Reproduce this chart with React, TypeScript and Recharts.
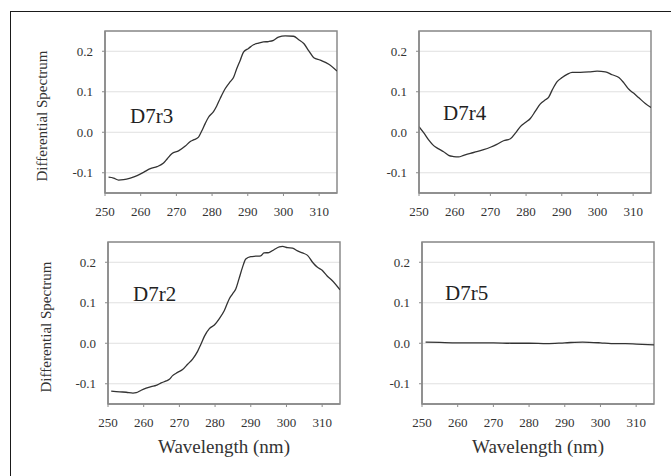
import React from "react";
import { LineChart, Line, XAxis, YAxis, CartesianGrid, ReferenceArea } from "recharts";

const xTicks = [250, 260, 270, 280, 290, 300, 310];
const yTicks = [-0.1, 0, 0.1, 0.2];

const d7r3X = [251, 252.4, 253.8, 255.2, 257.1, 259, 260.8, 262.7, 264.6, 266.4, 267.4, 268.7, 270.6, 272.5, 273.9, 274.8, 276.2, 277.1, 278.1, 279, 280.4, 281.3, 282.3, 283.7, 285.1, 286, 286.9, 287.9, 288.8, 290.2, 291.6, 293, 294.4, 295.8, 297.2, 298.6, 300.5, 302.8, 304.2, 305.7, 307.1, 308.5, 310.3, 312.7, 315];
const d7r3Y = [-0.111, -0.113, -0.118, -0.117, -0.113, -0.107, -0.099, -0.09, -0.085, -0.076, -0.066, -0.053, -0.046, -0.034, -0.023, -0.019, -0.012, 0.003, 0.022, 0.037, 0.051, 0.065, 0.084, 0.108, 0.125, 0.135, 0.157, 0.178, 0.198, 0.207, 0.216, 0.22, 0.223, 0.224, 0.227, 0.235, 0.238, 0.237, 0.229, 0.219, 0.201, 0.184, 0.178, 0.168, 0.151];

const d7r4X = [250, 251.3, 252.7, 254.1, 255.5, 256.9, 258.3, 259.7, 261.1, 262.5, 264.4, 266.2, 268.1, 270, 271.8, 273.7, 275.6, 277, 278.4, 279.8, 281.2, 282.6, 284, 285.4, 286.3, 287.3, 288.7, 290.1, 291.5, 292.9, 295.2, 297.6, 299.9, 302.2, 304.1, 306, 307.4, 308.8, 310.2, 311.6, 313.4, 315];
const d7r4Y = [0.014, -0.001, -0.019, -0.033, -0.041, -0.048, -0.057, -0.06, -0.061, -0.057, -0.052, -0.048, -0.043, -0.037, -0.03, -0.021, -0.016, -0.002, 0.014, 0.024, 0.034, 0.052, 0.07, 0.08, 0.086, 0.104, 0.125, 0.135, 0.143, 0.148, 0.148, 0.149, 0.151, 0.149, 0.142, 0.135, 0.122, 0.106, 0.096, 0.085, 0.071, 0.061];

const d7r2X = [250.9, 253.3, 255.1, 257, 257.9, 259.3, 260.7, 262.1, 263.5, 264.9, 266.3, 267.2, 268.1, 269.5, 270.9, 272.3, 273.7, 275.1, 276, 277, 278.4, 279.8, 281.2, 282.6, 284, 284.9, 285.8, 286.7, 287.7, 288.6, 290, 291.4, 292.8, 293.7, 295.1, 296.5, 298, 298.9, 300.3, 301.7, 303.1, 304.5, 305.9, 307.3, 308.6, 310, 311.4, 312.8, 315];
const d7r2Y = [-0.118, -0.12, -0.121, -0.123, -0.122, -0.116, -0.111, -0.107, -0.104, -0.098, -0.093, -0.089, -0.08, -0.072, -0.065, -0.052, -0.039, -0.02, -0.003, 0.017, 0.036, 0.045, 0.061, 0.081, 0.11, 0.122, 0.134, 0.159, 0.188, 0.208, 0.214, 0.215, 0.216, 0.223, 0.224, 0.231, 0.238, 0.239, 0.236, 0.235, 0.228, 0.223, 0.217, 0.2, 0.188, 0.18, 0.166, 0.155, 0.132];

const d7r5X = [251, 255, 260, 265, 270, 275, 280, 285, 290, 295, 300, 303, 307, 310, 315];
const d7r5Y = [0.003, 0.002, 0.001, 0.001, 0.001, 0, 0, -0.001, 0.001, 0.003, 0.001, -0.001, -0.001, -0.002, -0.004];

const FONT = '"Liberation Serif", "Times New Roman", Tinos, "DejaVu Serif", serif';
const PW = 232;
const PH = 162;
const AXIS = "#8a8a8a";

function build(xs: number[], ys: number[]) {
  return xs.map((x, i) => ({ x, y: ys[i] }));
}

function Panel({ left, top, xs, ys }: { left: number; top: number; xs: number[]; ys: number[] }) {
  const data = build(xs, ys);
  const tickStyle = { fontSize: 13, fill: "#333", style: { fontFamily: FONT } };
  return (
    <div style={{ position: "absolute", left: left - 70, top: top - 5, fontFamily: FONT }}>
      <LineChart width={70 + PW + 5} height={5 + PH + 30 + 5} data={data} margin={{ top: 5, right: 5, bottom: 5, left: 0 }} style={{ fontFamily: FONT }}>
        <CartesianGrid vertical={false} stroke="#e0e0e0" strokeWidth={1} />
        <XAxis
          type="number"
          dataKey="x"
          domain={[250, 315]}
          ticks={xTicks}
          interval={0}
          allowDataOverflow
          height={30}
          tickSize={3}
          tickMargin={11}
          axisLine={{ stroke: AXIS, strokeWidth: 1.5 }}
          tickLine={{ stroke: AXIS }}
          tick={tickStyle}
        />
        <YAxis
          type="number"
          domain={[-0.15, 0.25]}
          ticks={yTicks}
          interval={0}
          allowDataOverflow
          width={70}
          tickSize={3}
          tickMargin={9}
          tickFormatter={(v: number) => v.toFixed(1)}
          axisLine={{ stroke: AXIS, strokeWidth: 1.5 }}
          tickLine={{ stroke: AXIS }}
          tick={tickStyle}
        />
        <ReferenceArea x1={250} x2={315} y1={-0.15} y2={0.25} fill="none" stroke={AXIS} strokeWidth={1.5} ifOverflow="visible" />
        <Line type="monotone" dataKey="y" stroke="#333" strokeWidth={1.3} dot={false} isAnimationActive={false} />
      </LineChart>
    </div>
  );
}

const txt = { fontFamily: FONT };

export default function App() {
  return (
    <div style={{ position: "absolute", left: 0, top: 0, width: 671, height: 476, overflow: "hidden", background: "#fff", fontFamily: FONT }}>
      <div style={{ position: "absolute", left: 10, top: 11, width: 720, height: 520, borderTop: "1.5px solid #1a1a1a", borderLeft: "1.5px solid #1a1a1a" }} />
      <Panel left={105} top={31} xs={d7r3X} ys={d7r3Y} />
      <Panel left={419} top={31} xs={d7r4X} ys={d7r4Y} />
      <Panel left={108} top={242} xs={d7r2X} ys={d7r2Y} />
      <Panel left={422} top={242} xs={d7r5X} ys={d7r5Y} />
      <svg width={671} height={476} style={{ position: "absolute", left: 0, top: 0, pointerEvents: "none" }}>
        <text x={47} y={116} transform="rotate(-90 47 116)" textAnchor="middle" fontSize={15} fill="#333" style={txt}>Differential Spectrum</text>
        <text x={51} y={327} transform="rotate(-90 51 327)" textAnchor="middle" fontSize={15} fill="#333" style={txt}>Differential Spectrum</text>
        <text x={130} y={123} fontSize={21} fill="#222" style={txt}>D7r3</text>
        <text x={443} y={120} fontSize={21} fill="#222" style={txt}>D7r4</text>
        <text x={133} y={301} fontSize={21} fill="#222" style={txt}>D7r2</text>
        <text x={445} y={300} fontSize={21} fill="#222" style={txt}>D7r5</text>
        <text x={224} y={453} textAnchor="middle" fontSize={19} fill="#333" style={txt}>Wavelength (nm)</text>
        <text x={538} y={453} textAnchor="middle" fontSize={19} fill="#333" style={txt}>Wavelength (nm)</text>
      </svg>
    </div>
  );
}
